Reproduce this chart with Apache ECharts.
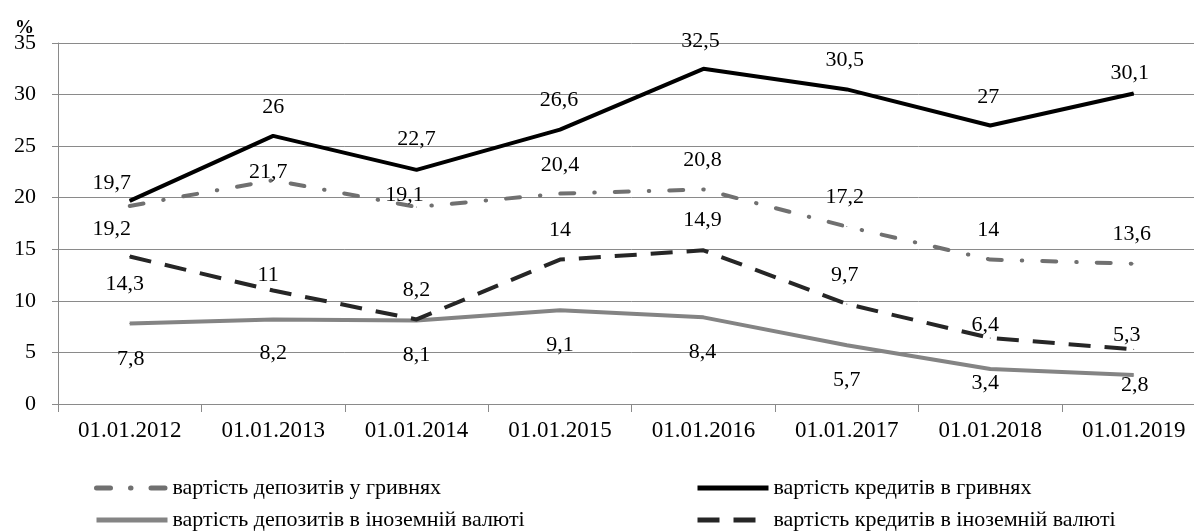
<!DOCTYPE html>
<html><head><meta charset="utf-8">
<script src="https://cdn.jsdelivr.net/npm/echarts@6/dist/echarts.min.js"></script>
<style>html,body{margin:0;padding:0;background:#fff;overflow:hidden;width:1194px;height:531px}#c{width:1206px;height:531px}</style>
</head><body><div id="c"></div>
<script>
// ---- data ----
const categories = ['01.01.2012','01.01.2013','01.01.2014','01.01.2015','01.01.2016','01.01.2017','01.01.2018','01.01.2019'];
const depositsUah = [19.2, 21.7, 19.1, 20.4, 20.8, 17.2, 14, 13.6];
const creditsUah = [19.7, 26, 22.7, 26.6, 32.5, 30.5, 27, 30.1];
const depositsForeign = [7.8, 8.2, 8.1, 9.1, 8.4, 5.7, 3.4, 2.8];
const creditsForeign = [14.3, 11, 8.2, 14, 14.9, 9.7, 6.4, 5.3];
const seriesNames = ['вартість депозитів у гривнях','вартість кредитів в гривнях','вартість депозитів в іноземній валюті','вартість кредитів в іноземній валюті'];
const yUnit = '%';

// ---- layout: label centre shifts relative to each point ----
const shiftCreditsUah = [[-18,-18],[0,-29],[0,-31],[-1,-29],[-3,-28],[-2,-29],[-2,-28],[-4,-20]];
const shiftDepositsUah = [[-18,23],[-5,-8],[-12,-12],[0,-28],[-1,-29],[-2,-29],[-2,-29],[-2,-30]];
const shiftCreditsForeign = [[-5,28],[-5,-15],[0,-29],[0,-29],[-1,-30],[-2,-29],[-5,-13],[-7,-14]];
const shiftDepositsForeign = [[1,36],[0,34],[0,35],[0,35],[-1,35],[0,35],[-5,14],[1,10]];

const FONT = 'Liberation Serif';
function items(vals, shifts){
  return vals.map((v,i)=>({value:v, label:{offset:shifts[i]}}));
}
function mkSeries(name, vals, shifts, color, width, type, cap, z){
  return {
    name, type:'line', data: items(vals, shifts), z,
    symbol:'circle', symbolSize:1, showSymbol:true,
    itemStyle:{color},
    lineStyle:{color, width, type, cap},
    label:{show:true, position:'inside', color:'#000', fontFamily:FONT, fontSize:22,
      formatter:p=>String(p.value).replace('.',',')},
    emphasis:{disabled:true}, animation:false
  };
}
const legendBase = {orient:'horizontal', padding:0, itemWidth:71, itemHeight:14, itemGap:0,
  textStyle:{fontFamily:FONT, fontSize:22, color:'#000', padding:[0,0,0,0]},
  itemStyle:{opacity:0}, lineStyle:{width:5}, selectedMode:false};

const chart = echarts.init(document.getElementById('c'), null, {renderer:'canvas'});
chart.setOption({
  backgroundColor:'#fff',
  animation:false,
  grid:{left:58, right:0.6, top:43, bottom:127, containLabel:false},
  xAxis:{type:'category', data:categories, boundaryGap:true,
    axisLine:{lineStyle:{color:'#8a8a8a', width:1}},
    axisTick:{show:true, length:8, lineStyle:{color:'#8a8a8a'}},
    axisLabel:{color:'#000', fontFamily:FONT, fontSize:23, margin:15, interval:0},
    splitLine:{show:false}},
  yAxis:{type:'value', min:0, max:35, interval:5,
    axisLine:{show:true, lineStyle:{color:'#8a8a8a', width:1}},
    axisTick:{show:true, length:6, lineStyle:{color:'#8a8a8a'}},
    axisLabel:{color:'#000', fontFamily:FONT, fontSize:22, margin:22},
    splitLine:{show:true, lineStyle:{color:'#8a8a8a', width:1}}},
  graphic:[{type:'text', left:15, top:19, style:{text:yUnit, fontFamily:FONT, fontSize:19, fontWeight:'bold', fill:'#000'}}],
  legend:[
    Object.assign({}, legendBase, {left:94, top:477, data:[seriesNames[0]]}),
    Object.assign({}, legendBase, {left:695, top:477, data:[seriesNames[1]]}),
    Object.assign({}, legendBase, {left:94, top:509, data:[seriesNames[2]]}),
    Object.assign({}, legendBase, {left:695, top:509, data:[seriesNames[3]]})
  ],
  series:[
    mkSeries(seriesNames[2], depositsForeign, shiftDepositsForeign, '#848484', 4, 'solid', 'butt', 2),
    mkSeries(seriesNames[0], depositsUah, shiftDepositsUah, '#707070', 4, [14,20,0.5,20], 'round', 3),
    mkSeries(seriesNames[3], creditsForeign, shiftCreditsForeign, '#262626', 4, [22,14], 'butt', 4),
    mkSeries(seriesNames[1], creditsUah, shiftCreditsUah, '#000000', 4, 'solid', 'butt', 5)
  ]
});
</script></body></html>
